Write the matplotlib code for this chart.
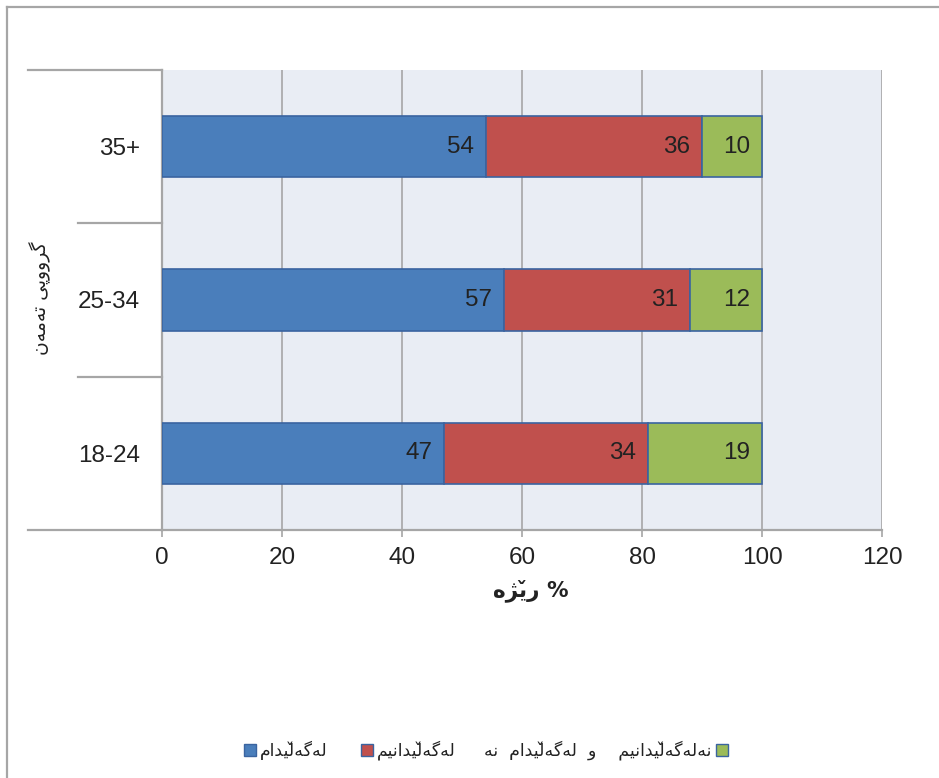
import matplotlib
matplotlib.use('Agg')
import matplotlib.pyplot as plt
from matplotlib.transforms import blended_transform_factory
from matplotlib.patches import Rectangle
from matplotlib.lines import Line2D

# ---------------- data ----------------
categories = ['18-24', '25-34', '35+']
agree = [47, 57, 54]
disagree = [34, 31, 36]
neutral = [19, 12, 10]
xticks = [0, 20, 40, 60, 80, 100, 120]


# Kurdish (Arabic-script) strings, pre-shaped in visual (left-to-right) order
def vis(*cps):
    return ''.join(chr(c) for c in cps)

V = 0x030C  # small v mark (over lam / yeh)
label_agree = vis(0xFEE1, 0xFE8D, 0xFEAA, 0xFBFF, 0xFEDF, V, 0xFEEA, 0xFB94, 0xFEEA, 0xFEDF)
label_disagree = vis(0xFEE2, 0xFBFF, 0xFEE7, 0xFE8D, 0xFEAA, 0xFBFF, 0xFEDF, V, 0xFEEA, 0xFB94, 0xFEEA, 0xFEDF)
w_ne = vis(0xFEEA, 0xFEE7)
w_w = vis(0xFEED)
w_nedis = vis(0xFEE2, 0xFBFF, 0xFEE7, 0xFE8D, 0xFEAA, 0xFBFF, 0xFEDF, V, 0xFEEA, 0xFB94, 0xFEEA, 0xFEDF, 0xFEEA, 0xFEE7)
label_neutral = w_ne + '  ' + label_agree + '  ' + w_w + '    ' + w_nedis
ylabel_text = vis(0xFEE5, 0xFEEA, 0xFEE3, 0xFEEA, 0xFE97) + ' ' + vis(0xFBFD, 0xFB58, 0xFEED, 0xFEED, 0xFEAE, 0xFB94)
xlabel_text = vis(0xFEE9, 0xFB8B, 0xFBFE, V, 0xFEAD) + ' %'

series = [agree, disagree, neutral]
colors = ['#4A7EBB', '#C0504D', '#9BBB59']
edge = '#3A64A0'

W, H = 939, 778
fig = plt.figure(figsize=(W / 100, H / 100), dpi=100)
fig.patch.set_facecolor('white')

L, R, T, B = 162, 882, 70, 530
ax = fig.add_axes([L / W, 1 - B / H, (R - L) / W, (B - T) / H])
ax.set_facecolor('#E9EDF4')

num_font = ['Liberation Sans', 'DejaVu Sans']
ar_font = ['DejaVu Sans']
txt_col = '#222222'

ypos = list(range(len(categories)))
left = [0] * len(categories)
containers = []
for vals, col in zip(series, colors):
    bars = ax.barh(ypos, vals, left=left, height=0.4, color=col,
                   edgecolor=edge, linewidth=1.2, zorder=3)
    containers.append((bars, vals))
    left = [l + v for l, v in zip(left, vals)]

for bars, vals in containers:
    for rect, v in zip(bars, vals):
        ax.annotate(f'{v}', xy=(rect.get_x() + rect.get_width(), rect.get_y() + rect.get_height() / 2),
                    xytext=(-8.5, 0), textcoords='offset points', ha='right', va='center',
                    fontsize=17.5, family=num_font, color=txt_col, zorder=4)

ax.set_xlim(xticks[0], xticks[-1])
ax.set_ylim(-0.5, len(categories) - 0.5)
ax.set_xticks(xticks)
ax.set_xticklabels([str(t) for t in xticks], family=num_font, fontsize=17.5, color=txt_col)
ax.set_yticks(ypos)
ax.set_yticklabels(categories, family=num_font, fontsize=17.5, color=txt_col)
ax.tick_params(axis='y', length=0, pad=16)
ax.tick_params(axis='x', length=5, width=1.2, color='#A6A6A6', pad=7, direction='out')

ax.grid(axis='x', color='#A0A0A0', linewidth=1.1, zorder=0)
ax.set_axisbelow(True)
for s in ['top', 'right']:
    ax.spines[s].set_visible(False)
for s in ['left', 'bottom']:
    ax.spines[s].set_color('#A6A6A6')
    ax.spines[s].set_linewidth(1.6)

# category separators extending left of the axis
trans = blended_transform_factory(fig.transFigure, ax.transData)
nb = len(categories)
for i in range(nb + 1):
    yb = i - 0.5
    xs = 28 / W if i in (0, nb) else 78 / W
    fig.add_artist(Line2D([xs, L / W], [yb, yb], transform=trans,
                          color='#A6A6A6', linewidth=1.6))

# axis titles
fig.text(531 / W, 1 - 591 / H, xlabel_text, ha='center', va='center', family=ar_font,
         fontsize=15.5, fontweight='bold', color=txt_col)
fig.text(40 / W, 1 - 298 / H, ylabel_text, rotation=90, ha='center', va='center',
         family=ar_font, fontsize=13.5, color=txt_col)

# outer border (left and top)
fig.add_artist(Line2D([7 / W, 7 / W], [0, 1 - 7 / H], color='#A6A6A6', linewidth=1.6))
fig.add_artist(Line2D([7 / W, 1], [1 - 7 / H, 1 - 7 / H], color='#A6A6A6', linewidth=1.6))

# legend (visual layout of the reference)
ly = 1 - 750 / H
bs = 12
def box(x, col):
    fig.add_artist(Rectangle((x / W, ly - bs / 2 / H), bs / W, bs / H, transform=fig.transFigure,
                             facecolor=col, edgecolor=edge, linewidth=1.0))
box(244, colors[0])
fig.text(260 / W, ly, label_agree, ha='left', va='center', family=ar_font, fontsize=12.5, color=txt_col)
box(361, colors[1])
fig.text(377 / W, ly, label_disagree, ha='left', va='center', family=ar_font, fontsize=12.5, color=txt_col)
fig.text(712 / W, ly, label_neutral, ha='right', va='center', family=ar_font, fontsize=12.5, color=txt_col)
box(716, colors[2])

fig.savefig('out.png', dpi=100)
